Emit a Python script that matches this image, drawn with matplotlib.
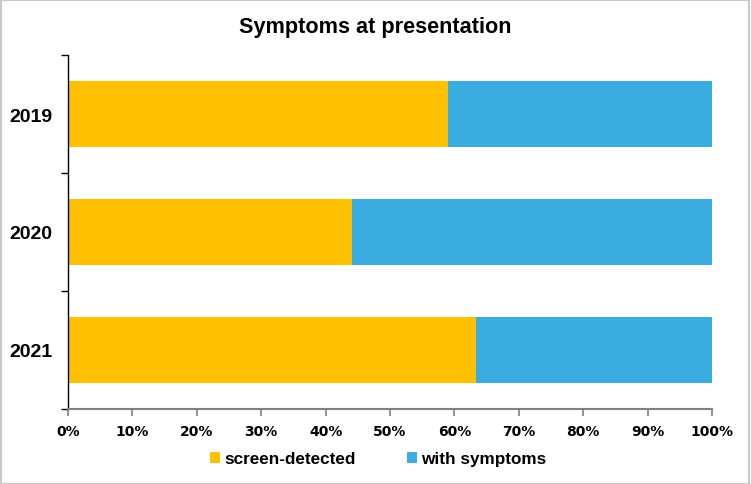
import matplotlib
matplotlib.use("Agg")
import matplotlib.pyplot as plt
from matplotlib.patches import Rectangle
import numpy as np

years = ["2019", "2020", "2021"]
screen_detected = [59.0, 44.1, 63.4]
with_symptoms = [41.0, 55.9, 36.6]
x_ticks = [0, 10, 20, 30, 40, 50, 60, 70, 80, 90, 100]
series_names = ["screen-detected", "with symptoms"]
colors = ["#FFC000", "#3BACE0"]

plt.rcParams['font.family'] = ['Liberation Sans', 'DejaVu Sans']

fig = plt.figure(figsize=(7.51, 4.85), dpi=100)
ax = fig.add_axes([68/751, 1-410/485, (712-68)/751, (410-56)/485])

y = np.arange(len(years))
h = 0.56
ax.barh(y, screen_detected, height=h, color=colors[0], label=series_names[0])
ax.barh(y, with_symptoms, left=screen_detected, height=h, color=colors[1], label=series_names[1])

ax.set_xlim(0, 100)
ax.set_ylim(len(years) - 0.5, -0.5)
ax.set_xticks(x_ticks)
ax.set_xticklabels([f"{v}%" for v in x_ticks], fontsize=10, fontweight='bold', family=['DejaVu Sans'])
ax.set_yticks(y)
ax.set_yticklabels(years, fontsize=14, fontweight='bold')
ax.set_yticks(np.arange(-0.5, len(years)), minor=True)
ax.tick_params(axis='y', which='major', length=0, pad=11.5)
ax.tick_params(axis='y', which='minor', length=5, width=1, color='black', direction='out')
ax.tick_params(axis='x', which='major', length=5, width=1.2, color='#808080', direction='out', pad=6)

for s in ['top', 'right']:
    ax.spines[s].set_visible(False)
ax.spines['left'].set_color('black')
ax.spines['left'].set_linewidth(1)
ax.spines['bottom'].set_color('#808080')
ax.spines['bottom'].set_linewidth(1.5)

fig.suptitle("Symptoms at presentation", x=375/751, y=1-27/485, va='center', fontsize=15.6,
             fontweight='bold')

leg = fig.legend(loc='center', bbox_to_anchor=(378/751, 1-460/485), ncol=2, frameon=False,
                 handlelength=0.6, handleheight=0.6, handletextpad=0.25,
                 columnspacing=3.0, prop={'weight': 'bold', 'size': 12.3})

fig.patches.append(Rectangle((0.001, 0.001), 0.997, 0.997, transform=fig.transFigure,
                             fill=False, edgecolor='#C8C8C8', linewidth=1.5))

fig.savefig("out.png", dpi=100)
